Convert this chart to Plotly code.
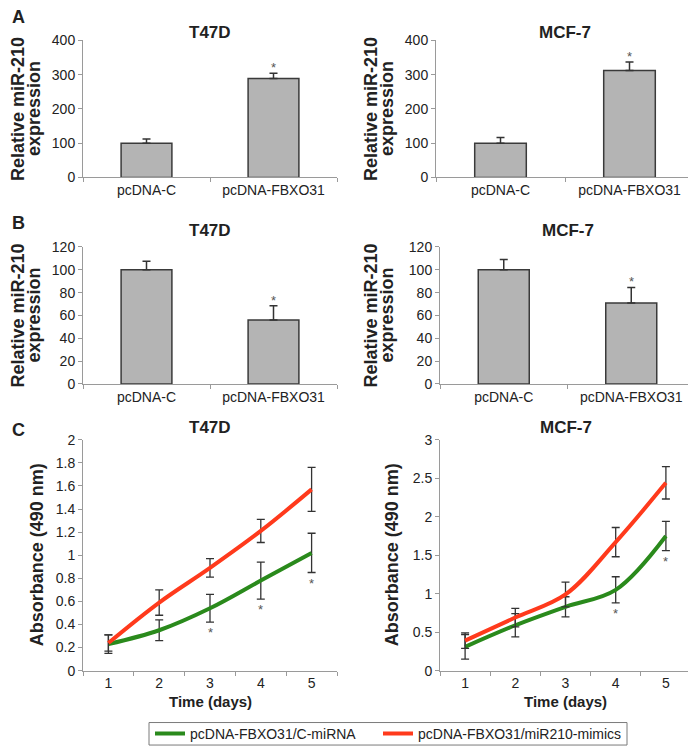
import plotly.graph_objects as go

# page is 696x755; the browser puts the plot div 8px in from the top-left corner
PAGE_W, PAGE_H = 696, 755
OFF = 8
W, H = PAGE_W - OFF, PAGE_H - OFF

# ---------------- data ----------------
categories = ["pcDNA-C", "pcDNA-FBXO31"]
a_t47d = [100, 289]
a_t47d_err = [12, 15]
a_mcf7 = [100, 312]
a_mcf7_err = [17, 25]
b_t47d = [100, 56]
b_t47d_err = [7.5, 12.5]
b_mcf7 = [100, 71]
b_mcf7_err = [9, 13.5]
bar_sig = [False, True]

days = ["1", "2", "3", "4", "5"]
c_t47d_ctrl = [0.23, 0.35, 0.54, 0.78, 1.02]
c_t47d_ctrl_err = [0.08, 0.09, 0.12, 0.16, 0.17]
c_t47d_mimic = [0.24, 0.59, 0.89, 1.21, 1.57]
c_t47d_mimic_err = [0.07, 0.11, 0.08, 0.10, 0.19]
c_t47d_sig = [False, False, True, True, True]
c_mcf7_ctrl = [0.31, 0.59, 0.83, 1.05, 1.75]
c_mcf7_ctrl_err = [0.16, 0.15, 0.13, 0.17, 0.19]
c_mcf7_mimic = [0.39, 0.69, 0.99, 1.67, 2.44]
c_mcf7_mimic_err = [0.10, 0.12, 0.16, 0.19, 0.21]
c_mcf7_sig = [False, False, False, True, True]

series_names = ["pcDNA-FBXO31/C-miRNA", "pcDNA-FBXO31/miR210-mimics"]
cell_lines = ["T47D", "MCF-7"]
ytitle_bar = ["Relative miR-210", "expression"]
ytitle_line = "Absorbance (490 nm)"
xtitle_line = "Time (days)"

# ---------------- style ----------------
FONT = "Liberation Sans, Arial, sans-serif"
GREEN = "#2a8a1c"
RED = "#ff3a1c"
BAR_FILL = "#b4b4b4"
BAR_LINE = "#3a3a3a"
AXIS = "#9a9a9a"
TXT = "#222222"
ERR = "#333333"
TICK_SIZE = 14


def px_x(v):
    return (v - OFF) / W


def px_y(v):
    return 1 - (v - OFF) / H


# panel domains in page pixels: (x0, x1, ytop, ybottom)
panels = {
    1: (83, 337, 33, 173),
    2: (436, 694, 33, 173),
    3: (83, 337, 244, 384),
    4: (440, 695, 244, 384),
    5: (83, 337, 441, 677),
    6: (440, 691, 441, 677),
}

fig = go.Figure()


def refs(idx):
    return ("x" if idx == 1 else f"x{idx}"), ("y" if idx == 1 else f"y{idx}")


def bar_panel(idx, vals, errs):
    xr, yr = refs(idx)
    fig.add_trace(go.Bar(
        x=categories, y=vals, xaxis=xr, yaxis=yr,
        marker=dict(color=BAR_FILL, line=dict(color=BAR_LINE, width=1.5)),
        error_y=dict(type="data", symmetric=False, array=errs,
                     arrayminus=[0] * len(errs), color=ERR, thickness=1.5, width=4),
        showlegend=False, hoverinfo="skip",
    ))
    for i, (v, e, s) in enumerate(zip(vals, errs, bar_sig)):
        if s:
            fig.add_annotation(x=i, y=v + e, xref=xr, yref=yr, text="*",
                               showarrow=False, yanchor="bottom", yshift=-4,
                               font=dict(family=FONT, size=13, color="#555"))


def line_panel(idx, ctrl, ctrl_err, mimic, mimic_err, sig, legend):
    xr, yr = refs(idx)
    for name, vals, errs, col, lg in [(series_names[0], ctrl, ctrl_err, GREEN, "legend"),
                                      (series_names[1], mimic, mimic_err, RED, "legend2")]:
        fig.add_trace(go.Scatter(
            x=days, y=vals, xaxis=xr, yaxis=yr, mode="lines", name=name,
            line=dict(color=col, width=4, shape="spline"),
            error_y=dict(type="data", array=errs, color=ERR, thickness=1.3, width=4),
            showlegend=legend, legend=lg, hoverinfo="skip",
        ))
    for i, (v, e, s) in enumerate(zip(ctrl, ctrl_err, sig)):
        if s:
            fig.add_annotation(x=i, y=v - e, xref=xr, yref=yr, text="*",
                               showarrow=False, yanchor="top", yshift=-1,
                               font=dict(family=FONT, size=13, color="#555"))


bar_panel(1, a_t47d, a_t47d_err)
bar_panel(2, a_mcf7, a_mcf7_err)
bar_panel(3, b_t47d, b_t47d_err)
bar_panel(4, b_mcf7, b_mcf7_err)
line_panel(5, c_t47d_ctrl, c_t47d_ctrl_err, c_t47d_mimic, c_t47d_mimic_err, c_t47d_sig, True)
line_panel(6, c_mcf7_ctrl, c_mcf7_ctrl_err, c_mcf7_mimic, c_mcf7_mimic_err, c_mcf7_sig, False)

yranges = {1: (0, 400, 100), 2: (0, 400, 100), 3: (0, 120, 20), 4: (0, 120, 20),
           5: (0, 2, 0.2), 6: (0, 3, 0.5)}

layout_axes = {}
for idx, (x0, x1, yt, yb) in panels.items():
    xk = "xaxis" if idx == 1 else f"xaxis{idx}"
    yk = "yaxis" if idx == 1 else f"yaxis{idx}"
    xa, ya = refs(idx)
    ncat = 2 if idx <= 4 else 5
    layout_axes[xk] = dict(
        domain=[px_x(x0), px_x(x1)], anchor=ya, type="category",
        range=[-0.5, ncat - 0.5], tickson="boundaries", ticks="outside",
        ticklen=4, tickcolor=AXIS, showline=True, linecolor=AXIS, linewidth=1,
        showgrid=False, zeroline=False,
        tickfont=dict(family=FONT, size=TICK_SIZE, color=TXT), fixedrange=True,
    )
    lo, hi, dt = yranges[idx]
    layout_axes[yk] = dict(
        domain=[px_y(yb), px_y(yt)], anchor=xa, range=[lo, hi], dtick=dt,
        tick0=0, ticks="outside", ticklen=4, tickcolor=AXIS, showline=True,
        linecolor=AXIS, linewidth=1, showgrid=False, zeroline=False,
        tickfont=dict(family=FONT, size=TICK_SIZE, color=TXT), fixedrange=True,
    )

fig.update_layout(**layout_axes)


def text_at(xp, yp, text, size, angle=0, xanchor="center", yanchor="middle"):
    fig.add_annotation(x=px_x(xp), y=px_y(yp), xref="paper", yref="paper",
                       text=text, showarrow=False, textangle=angle,
                       xanchor=xanchor, yanchor=yanchor,
                       font=dict(family=FONT, size=size, color=TXT))


# panel titles
title_y = {1: 25, 2: 25, 3: 227, 4: 227, 5: 428, 6: 428}
for idx, (x0, x1, yt, yb) in panels.items():
    name = cell_lines[0] if idx % 2 == 1 else cell_lines[1]
    text_at((x0 + x1) / 2, title_y[idx], f"<b>{name}</b>", 17)

# y axis titles (two lines for bar panels)
ytitle_pos = {1: (18, 34), 2: (371, 387), 3: (18, 34), 4: (371, 387)}
for idx, (l1, l2) in ytitle_pos.items():
    x0, x1, yt, yb = panels[idx]
    yc = (yt + yb) / 2
    text_at(l1, yc, f"<b>{ytitle_bar[0]}</b>", 18, angle=-90)
    text_at(l2, yc, f"<b>{ytitle_bar[1]}</b>", 18, angle=-90)
for idx, xp in {5: 37, 6: 392}.items():
    x0, x1, yt, yb = panels[idx]
    text_at(xp, (yt + yb) / 2, f"<b>{ytitle_line}</b>", 18, angle=-90)
    text_at((x0 + x1) / 2, 709, f"<b>{xtitle_line}</b>", 15)

# panel letters
for letter, yy in [("A", 9), ("B", 220), ("C", 431)]:
    text_at(10, yy, f"<b>{letter}</b>", 18, xanchor="left")

# legend frame
fig.add_shape(type="rect", xref="paper", yref="paper",
              x0=px_x(149), x1=px_x(627), y0=px_y(753), y1=px_y(730),
              line=dict(color="#7a7a7a", width=1), fillcolor="rgba(0,0,0,0)",
              layer="above")

leg_common = dict(orientation="h", xanchor="left", yanchor="middle",
                  y=px_y(741.5), borderwidth=0, bgcolor="rgba(0,0,0,0)",
                  font=dict(family=FONT, size=14, color=TXT),
                  itemwidth=30, tracegroupgap=0)

fig.update_layout(
    width=W, height=H, margin=dict(l=0, r=0, t=0, b=0),
    paper_bgcolor="white", plot_bgcolor="white",
    bargap=0.6,
    showlegend=True,
    legend=dict(x=px_x(150), **leg_common),
    legend2=dict(x=px_x(378), **leg_common),
    font=dict(family=FONT, color=TXT),
)

fig.write_html("out.html")
